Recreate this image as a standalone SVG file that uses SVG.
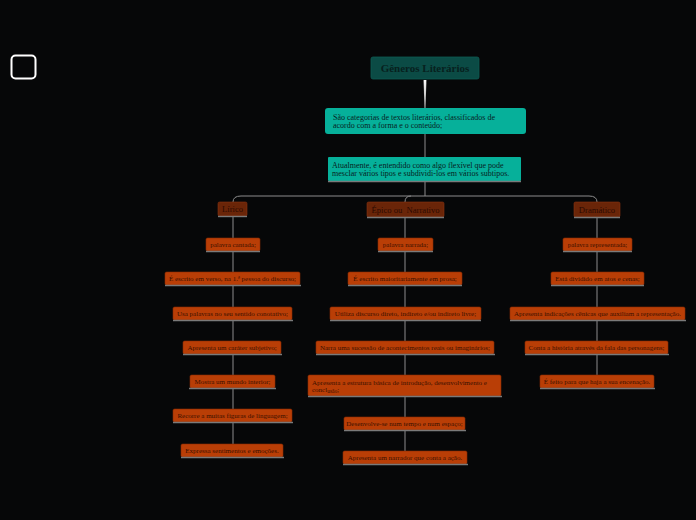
<svg xmlns="http://www.w3.org/2000/svg" width="696" height="520" viewBox="0 0 696 520">
<defs>
<linearGradient id="wg" x1="0" y1="0" x2="0" y2="1">
<stop offset="0" stop-color="#ffffff"/>
<stop offset="1" stop-color="#9a9a9a"/>
</linearGradient>
</defs>
<style>
.t{font-family:"Liberation Serif","DejaVu Serif",serif}
.title{fill:#0b4b45;stroke:#0e5a53;stroke-width:0.8}
.titletx{font-size:11px;font-weight:bold;fill:#07211e;text-anchor:middle}
.teal{fill:#06b09a}
.tealtx{font-size:8px;fill:#08221f}
.hdr{fill:#6a2508;stroke:#8a3410;stroke-width:0.6}
.hdrtx{font-size:8.6px;fill:#2a0a02;text-anchor:middle}
.item{fill:#b93e06;stroke:#8a2c04;stroke-width:0.6}
.itemtx{font-size:7px;fill:#3a1000;text-anchor:middle}
.sh{stroke:#7a7a7a;stroke-width:1.4}
.con{fill:none;stroke:#8c8c8c;stroke-width:1}
</style>
<rect x="0" y="0" width="696" height="520" fill="#060708"/>
<rect x="11.5" y="55.5" width="24" height="23" rx="4" fill="none" stroke="#ffffff" stroke-width="2"/>

<g id="connectors">
<polygon points="423.6,80 426.4,80 425.6,108 424.4,108" fill="url(#wg)"/>
<line class="con" x1="425" y1="134" x2="425" y2="157"/>
<line class="con" x1="425" y1="181" x2="425" y2="196"/>
<path class="con" d="M233,202 Q233,196 241,196 L589,196 Q597,196 597,202"/>
<path class="con" d="M405,202 Q405,196 411,196"/>
<line class="con" x1="233" y1="216" x2="233" y2="444"/>
<line class="con" x1="405" y1="217" x2="405" y2="451"/>
<line class="con" x1="597" y1="217" x2="597" y2="375"/>
</g>

<g id="title" class="t">
<rect class="title" x="371" y="57" width="108" height="22" rx="2"/>
<text class="titletx" x="425" y="72">Gêneros Literários</text>
</g>

<g id="def1" class="t">
<rect class="teal" x="325" y="108" width="201" height="26" rx="3"/>
<text class="tealtx" x="333" y="120">São categorias de textos literários, classificados de</text>
<text class="tealtx" x="333" y="128">acordo com a forma e o conteúdo;</text>
</g>

<g id="def2" class="t">
<rect class="teal" x="328" y="157" width="193" height="24" rx="1"/>
<line class="sh" x1="328" y1="181.5" x2="521" y2="181.5"/>
<text class="tealtx" x="332" y="168">Atualmente, é entendido como algo flexível que pode</text>
<text class="tealtx" x="332" y="176">mesclar vários tipos e subdividi-los em vários subtipos.</text>
</g>

<g id="lirico" class="t">
<rect class="hdr" x="218" y="202" width="29" height="14" rx="1.5"/>
<line class="sh" x1="218" y1="216.5" x2="247" y2="216.5"/>
<text class="hdrtx" x="232.5" y="212">Lírico</text>
</g>
<g id="epico" class="t">
<rect class="hdr" x="367" y="202" width="77" height="15" rx="1.5"/>
<line class="sh" x1="367" y1="217.5" x2="444" y2="217.5"/>
<text class="hdrtx" x="405.5" y="212.5" xml:space="preserve">Épico ou  Narrativo</text>
</g>
<g id="dramatico" class="t">
<rect class="hdr" x="574" y="202" width="46" height="15" rx="1.5"/>
<line class="sh" x1="574" y1="217.5" x2="620" y2="217.5"/>
<text class="hdrtx" x="597" y="212.5">Dramático</text>
</g>

<g id="l1" class="t"><rect class="item" x="206" y="238" width="54" height="13" rx="1.5"/><line class="sh" x1="206" y1="251.5" x2="260" y2="251.5"/><text class="itemtx" x="233" y="246.8">palavra cantada;</text></g>
<g id="l2" class="t"><rect class="item" x="165" y="272" width="135" height="13" rx="1.5"/><line class="sh" x1="165" y1="285.5" x2="301" y2="285.5"/><text class="itemtx" x="232.5" y="280.8">É escrito em verso, na 1.ª pessoa do discurso;</text></g>
<g id="l3" class="t"><rect class="item" x="173" y="307" width="119" height="13" rx="1.5"/><line class="sh" x1="173" y1="320.5" x2="293" y2="320.5"/><text class="itemtx" x="232.5" y="315.8">Usa palavras no seu sentido conotativo;</text></g>
<g id="l4" class="t"><rect class="item" x="183" y="341" width="98" height="13" rx="1.5"/><line class="sh" x1="183" y1="354.5" x2="282" y2="354.5"/><text class="itemtx" x="232" y="349.8">Apresenta um caráter subjetivo;</text></g>
<g id="l5" class="t"><rect class="item" x="190" y="375" width="85" height="13" rx="1.5"/><line class="sh" x1="189" y1="388.5" x2="276" y2="388.5"/><text class="itemtx" x="232.5" y="383.8">Mostra um mundo interior;</text></g>
<g id="l6" class="t"><rect class="item" x="173" y="409" width="119" height="13" rx="1.5"/><line class="sh" x1="173" y1="422.5" x2="293" y2="422.5"/><text class="itemtx" x="232.5" y="417.8">Recorre a muitas figuras de linguagem;</text></g>
<g id="l7" class="t"><rect class="item" x="181" y="444" width="102" height="13" rx="1.5"/><line class="sh" x1="181" y1="457.5" x2="284" y2="457.5"/><text class="itemtx" x="232" y="452.8">Expressa sentimentos e emoções.</text></g>

<g id="e1" class="t"><rect class="item" x="378" y="238" width="55" height="13" rx="1.5"/><line class="sh" x1="378" y1="251.5" x2="433" y2="251.5"/><text class="itemtx" x="405.5" y="246.8">palavra narrada;</text></g>
<g id="e2" class="t"><rect class="item" x="348" y="272" width="114" height="13" rx="1.5"/><line class="sh" x1="348" y1="285.5" x2="462" y2="285.5"/><text class="itemtx" x="405" y="280.8">É escrito maioritariamente em prosa;</text></g>
<g id="e3" class="t"><rect class="item" x="330" y="307" width="151" height="13" rx="1.5"/><line class="sh" x1="330" y1="320.5" x2="481" y2="320.5"/><text class="itemtx" x="405.5" y="315.8">Utiliza discurso direto, indireto e/ou indireto livre;</text></g>
<g id="e4" class="t"><rect class="item" x="316" y="341" width="178" height="13" rx="1.5"/><line class="sh" x1="316" y1="354.5" x2="495" y2="354.5"/><text class="itemtx" x="405" y="349.8">Narra uma sucessão de acontecimentos reais ou imaginários;</text></g>
<g id="e5" class="t"><rect class="item" x="308" y="375" width="193" height="21" rx="1.5"/><line class="sh" x1="308" y1="396.5" x2="502" y2="396.5"/><text class="itemtx" x="312" y="384.5" style="text-anchor:start">Apresenta a estrutura básica de introdução, desenvolvimento e</text><text class="itemtx" x="312" y="391.5" style="text-anchor:start">concl<tspan font-size="5.5" dy="1.3">usão</tspan><tspan dy="-1.3">;</tspan></text></g>
<g id="e6" class="t"><rect class="item" x="344" y="417" width="121" height="13" rx="1.5"/><line class="sh" x1="344" y1="430.5" x2="466" y2="430.5"/><text class="itemtx" x="404.5" y="425.8">Desenvolve-se num tempo e num espaço;</text></g>
<g id="e7" class="t"><rect class="item" x="343" y="451" width="124" height="13" rx="1.5"/><line class="sh" x1="343" y1="464.5" x2="468" y2="464.5"/><text class="itemtx" x="405" y="459.8">Apresenta um narrador que conta a ação.</text></g>

<g id="d1" class="t"><rect class="item" x="563" y="238" width="69" height="13" rx="1.5"/><line class="sh" x1="563" y1="251.5" x2="632" y2="251.5"/><text class="itemtx" x="597.5" y="246.8">palavra representada;</text></g>
<g id="d2" class="t"><rect class="item" x="551" y="272" width="93" height="13" rx="1.5"/><line class="sh" x1="551" y1="285.5" x2="644" y2="285.5"/><text class="itemtx" x="597.5" y="280.8">Está dividido em atos e cenas;</text></g>
<g id="d3" class="t"><rect class="item" x="510" y="307" width="175" height="13" rx="1.5"/><line class="sh" x1="510" y1="320.5" x2="686" y2="320.5"/><text class="itemtx" x="597.5" y="315.8">Apresenta indicações cênicas que auxiliam a representação.</text></g>
<g id="d4" class="t"><rect class="item" x="525" y="341" width="143" height="13" rx="1.5"/><line class="sh" x1="525" y1="354.5" x2="669" y2="354.5"/><text class="itemtx" x="596.5" y="349.8">Conta a história através da fala das personagens;</text></g>
<g id="d5" class="t"><rect class="item" x="540" y="375" width="114" height="13" rx="1.5"/><line class="sh" x1="540" y1="388.5" x2="655" y2="388.5"/><text class="itemtx" x="597" y="383.8">É feito para que haja a sua encenação.</text></g>
</svg>
